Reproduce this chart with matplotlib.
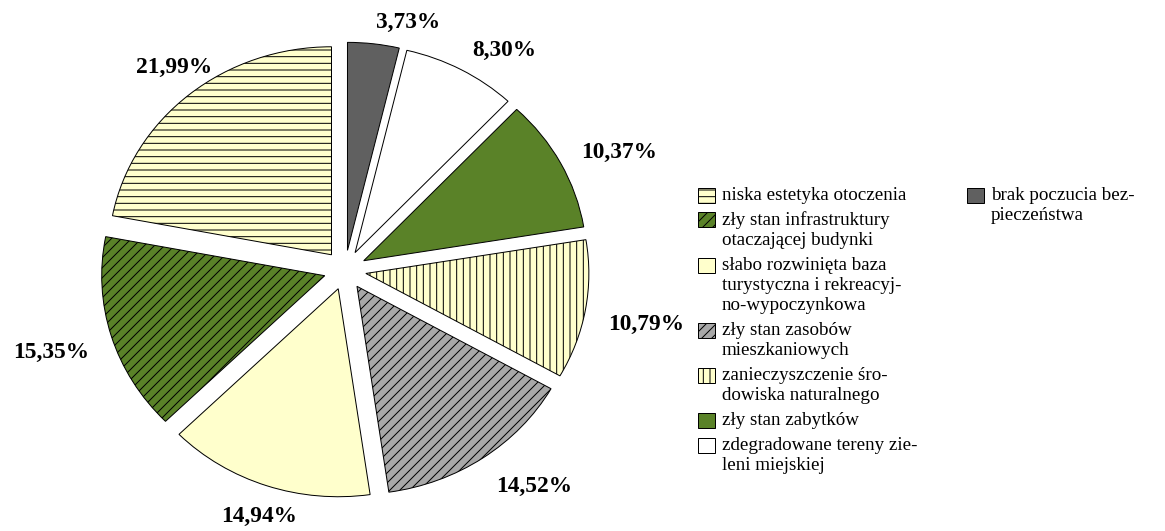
import matplotlib
matplotlib.use("Agg")
import matplotlib.pyplot as plt
from matplotlib.patches import Rectangle
import numpy as np

# ---- data (pie order: clockwise from 12 o'clock) ----
categories = [
    "brak poczucia bez-\npieczeństwa",
    "zdegradowane tereny zie-\nleni miejskiej",
    "zły stan zabytków",
    "zanieczyszczenie śro-\ndowiska naturalnego",
    "zły stan zasobów\nmieszkaniowych",
    "słabo rozwinięta baza\nturystyczna i rekreacyj-\nno-wypoczynkowa",
    "zły stan infrastruktury\notaczającej budynki",
    "niska estetyka otoczenia",
]
values = [3.73, 8.30, 10.37, 10.79, 14.52, 14.94, 15.35, 21.99]
colors = ["#606060", "#ffffff", "#5a8228", "#ffffcc", "#a8a8a8", "#ffffcc", "#5a8228", "#ffffcc"]
hatches = ["", "", "", "|||", "////", "", "////", "---"]

DPI = 120
W, H = 1165, 531
plt.rcParams["hatch.linewidth"] = 0.6
plt.rcParams["hatch.color"] = "black"
SERIF = ["Liberation Serif", "DejaVu Serif"]

fig = plt.figure(figsize=(W / DPI, H / DPI), dpi=DPI)
ax = fig.add_axes([0, 0, 1, 1])

EXPLODE = 0.095
labels = [f"{v:.2f}".replace(".", ",") + "%" for v in values]
wedges, texts = ax.pie(
    values,
    labels=labels,
    colors=colors,
    startangle=90,
    counterclock=False,
    explode=[EXPLODE] * len(values),
    labeldistance=1.2 - EXPLODE,
    wedgeprops=dict(edgecolor="black", linewidth=0.6),
    textprops=dict(family=SERIF, fontweight="bold", fontsize=14),
)
for w, h in zip(wedges, hatches):
    if h:
        w.set_hatch(h)

# label alignment like the original chart
for w, t in zip(wedges, texts):
    phi = np.deg2rad((w.theta1 + w.theta2) / 2)
    dx, dy = np.cos(phi), np.sin(phi)
    if dy < 0:
        t.set_va("top")
    if dy < -0.5 and abs(dx) < 0.4:
        t.set_ha("center")
    if dy > 0.5 and dx < 0:
        t.set_ha("center")
        t.set_va("bottom")

# elliptical pie as in the reference (center ~(345,270)px, rx 223, ry 208)
cx, cy, rx, ry = 345, 270, 223, 208
ax.set_aspect("auto")
ax.set_xlim(-cx / rx, (W - cx) / rx)
ax.set_ylim((cy - H) / ry, cy / ry)
ax.axis("off")

# ---- manual legend ----
def add_entry(idx, x_handle, y_first):
    lines = categories[idx].split("\n")
    rect = Rectangle((x_handle / W, 1 - (y_first + 7.5) / H), 17 / W, 15 / H,
                     transform=fig.transFigure, facecolor=colors[idx],
                     edgecolor="black", linewidth=0.6, hatch=hatches[idx] or None)
    fig.add_artist(rect)
    for k, ln in enumerate(lines):
        yb = y_first + k * 20 + 5
        fig.text((x_handle + 24) / W, 1 - yb / H, ln, family=SERIF, fontsize=11.4,
                 va="baseline", ha="left")
    return len(lines)

order = [7, 6, 5, 4, 3, 2, 1]
y = 195
for idx in order:
    n = add_entry(idx, 698, y)
    y += n * 20 + 5
add_entry(0, 967, 195)

fig.savefig("out.png", dpi=DPI)
